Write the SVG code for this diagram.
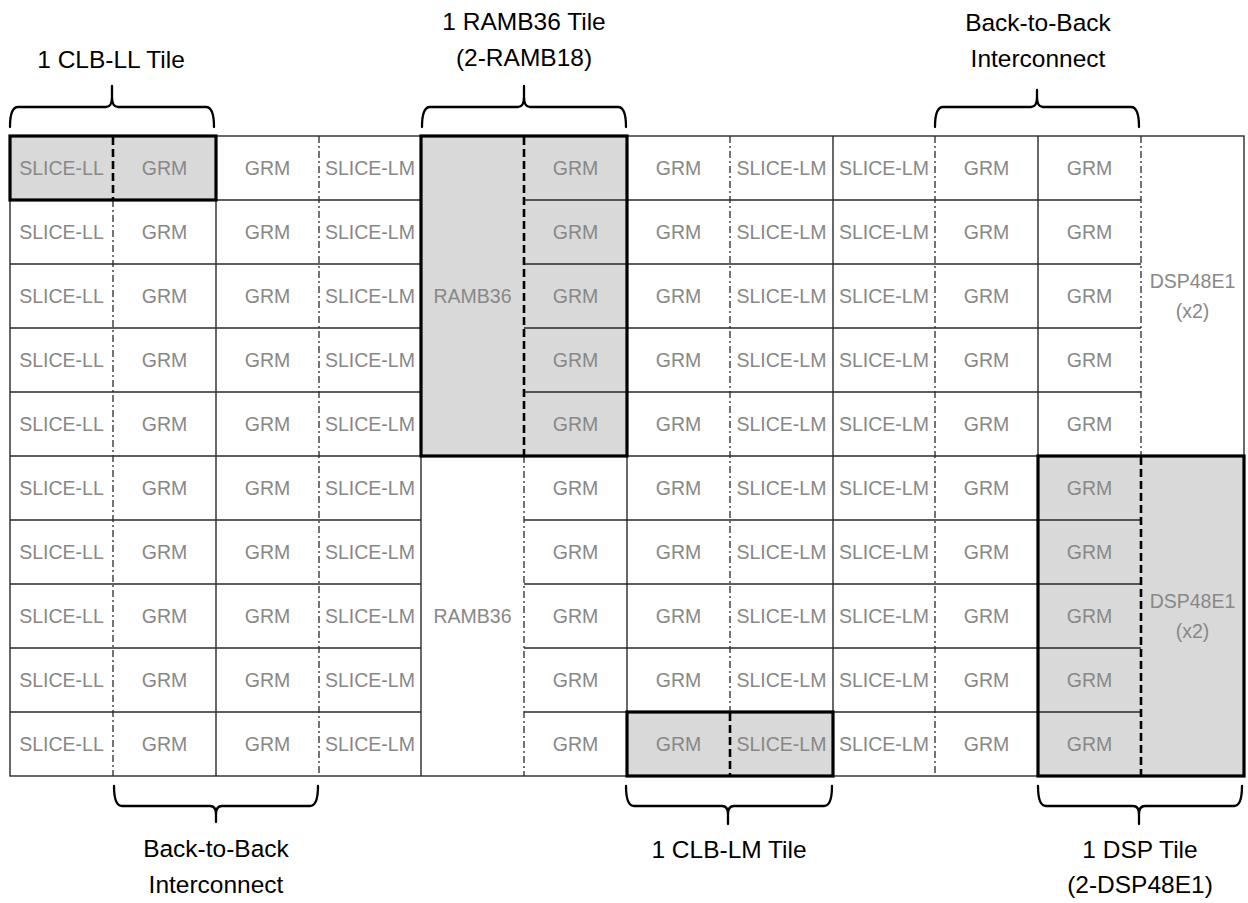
<svg xmlns="http://www.w3.org/2000/svg" width="1248" height="903" viewBox="0 0 1248 903">
<style>
.cell{font-family:"Liberation Sans",Arial,sans-serif;font-size:19.5px;fill:#888;text-anchor:middle}
.lbl{font-family:"Liberation Sans",Arial,sans-serif;font-size:24.5px;fill:#000;text-anchor:middle}
.grid{stroke:#2a2a2a;stroke-width:1.4;fill:none}
.dd{stroke:#2a2a2a;stroke-width:1.3;stroke-dasharray:7 3 2 3;fill:none}
.hl{fill:#d9d9d9;stroke:none}
.hb{fill:none;stroke:#000;stroke-width:3.2}
.hd{stroke:#000;stroke-width:2.6;stroke-dasharray:8 4;fill:none}
.br{fill:none;stroke:#000;stroke-width:2.3;stroke-linecap:round}
</style>
<rect x="0" y="0" width="1248" height="903" fill="#fff"/>
<g id="fills">
<rect class="hl" x="10" y="136" width="206" height="64"/>
<rect class="hl" x="421" y="136" width="206" height="320"/>
<rect class="hl" x="627" y="712" width="206" height="64"/>
<rect class="hl" x="1038" y="456" width="206" height="320"/>
</g>
<g id="connectors">
<rect class="grid" x="10" y="136" width="1234" height="640"/>
<path class="grid" d="M216,136V776M421,136V776M627,136V776M833,136V776M1038,136V776"/>
<path class="dd" d="M113,200V776M319,136V776M524,456V776M730,136V712M935,136V776M1141,136V456"/>
<path class="grid" d="M10,200H421M524,200H1141M10,264H421M524,264H1141M10,328H421M524,328H1141M10,392H421M524,392H1141M10,456H1244M10,520H421M524,520H1141M10,584H421M524,584H1141M10,648H421M524,648H1141M10,712H421M524,712H1141"/>
</g>
<g id="tile-clb-ll">
<rect class="hb" x="10" y="136" width="206" height="64"/>
<path class="hd" d="M113,137V199"/>
</g>
<g id="tile-ramb36">
<rect class="hb" x="421" y="136" width="206" height="320"/>
<path class="hd" d="M524,137V455"/>
</g>
<g id="tile-clb-lm">
<rect class="hb" x="627" y="712" width="206" height="64"/>
<path class="hd" d="M730,713V775"/>
</g>
<g id="tile-dsp">
<rect class="hb" x="1038" y="456" width="206" height="320"/>
<path class="hd" d="M1141,457V775"/>
</g>
<g id="col0" class="cell">
<text x="61.5" y="175">SLICE-LL</text><text x="61.5" y="239">SLICE-LL</text><text x="61.5" y="303">SLICE-LL</text><text x="61.5" y="367">SLICE-LL</text><text x="61.5" y="431">SLICE-LL</text><text x="61.5" y="495">SLICE-LL</text><text x="61.5" y="559">SLICE-LL</text><text x="61.5" y="623">SLICE-LL</text><text x="61.5" y="687">SLICE-LL</text><text x="61.5" y="751">SLICE-LL</text>
</g>
<g id="col1" class="cell">
<text x="164.5" y="175">GRM</text><text x="164.5" y="239">GRM</text><text x="164.5" y="303">GRM</text><text x="164.5" y="367">GRM</text><text x="164.5" y="431">GRM</text><text x="164.5" y="495">GRM</text><text x="164.5" y="559">GRM</text><text x="164.5" y="623">GRM</text><text x="164.5" y="687">GRM</text><text x="164.5" y="751">GRM</text>
</g>
<g id="col2" class="cell">
<text x="267.5" y="175">GRM</text><text x="267.5" y="239">GRM</text><text x="267.5" y="303">GRM</text><text x="267.5" y="367">GRM</text><text x="267.5" y="431">GRM</text><text x="267.5" y="495">GRM</text><text x="267.5" y="559">GRM</text><text x="267.5" y="623">GRM</text><text x="267.5" y="687">GRM</text><text x="267.5" y="751">GRM</text>
</g>
<g id="col3" class="cell">
<text x="370" y="175">SLICE-LM</text><text x="370" y="239">SLICE-LM</text><text x="370" y="303">SLICE-LM</text><text x="370" y="367">SLICE-LM</text><text x="370" y="431">SLICE-LM</text><text x="370" y="495">SLICE-LM</text><text x="370" y="559">SLICE-LM</text><text x="370" y="623">SLICE-LM</text><text x="370" y="687">SLICE-LM</text><text x="370" y="751">SLICE-LM</text>
</g>
<g id="col4" class="cell">
<text x="472.5" y="303">RAMB36</text><text x="472.5" y="623">RAMB36</text>
</g>
<g id="col5" class="cell">
<text x="575.5" y="175">GRM</text><text x="575.5" y="239">GRM</text><text x="575.5" y="303">GRM</text><text x="575.5" y="367">GRM</text><text x="575.5" y="431">GRM</text><text x="575.5" y="495">GRM</text><text x="575.5" y="559">GRM</text><text x="575.5" y="623">GRM</text><text x="575.5" y="687">GRM</text><text x="575.5" y="751">GRM</text>
</g>
<g id="col6" class="cell">
<text x="678.5" y="175">GRM</text><text x="678.5" y="239">GRM</text><text x="678.5" y="303">GRM</text><text x="678.5" y="367">GRM</text><text x="678.5" y="431">GRM</text><text x="678.5" y="495">GRM</text><text x="678.5" y="559">GRM</text><text x="678.5" y="623">GRM</text><text x="678.5" y="687">GRM</text><text x="678.5" y="751">GRM</text>
</g>
<g id="col7" class="cell">
<text x="781.5" y="175">SLICE-LM</text><text x="781.5" y="239">SLICE-LM</text><text x="781.5" y="303">SLICE-LM</text><text x="781.5" y="367">SLICE-LM</text><text x="781.5" y="431">SLICE-LM</text><text x="781.5" y="495">SLICE-LM</text><text x="781.5" y="559">SLICE-LM</text><text x="781.5" y="623">SLICE-LM</text><text x="781.5" y="687">SLICE-LM</text><text x="781.5" y="751">SLICE-LM</text>
</g>
<g id="col8" class="cell">
<text x="884" y="175">SLICE-LM</text><text x="884" y="239">SLICE-LM</text><text x="884" y="303">SLICE-LM</text><text x="884" y="367">SLICE-LM</text><text x="884" y="431">SLICE-LM</text><text x="884" y="495">SLICE-LM</text><text x="884" y="559">SLICE-LM</text><text x="884" y="623">SLICE-LM</text><text x="884" y="687">SLICE-LM</text><text x="884" y="751">SLICE-LM</text>
</g>
<g id="col9" class="cell">
<text x="986.5" y="175">GRM</text><text x="986.5" y="239">GRM</text><text x="986.5" y="303">GRM</text><text x="986.5" y="367">GRM</text><text x="986.5" y="431">GRM</text><text x="986.5" y="495">GRM</text><text x="986.5" y="559">GRM</text><text x="986.5" y="623">GRM</text><text x="986.5" y="687">GRM</text><text x="986.5" y="751">GRM</text>
</g>
<g id="col10" class="cell">
<text x="1089.5" y="175">GRM</text><text x="1089.5" y="239">GRM</text><text x="1089.5" y="303">GRM</text><text x="1089.5" y="367">GRM</text><text x="1089.5" y="431">GRM</text><text x="1089.5" y="495">GRM</text><text x="1089.5" y="559">GRM</text><text x="1089.5" y="623">GRM</text><text x="1089.5" y="687">GRM</text><text x="1089.5" y="751">GRM</text>
</g>
<g id="col11" class="cell">
<text x="1192.5" y="288">DSP48E1</text><text x="1192.5" y="318">(x2)</text>
<text x="1192.5" y="608">DSP48E1</text><text x="1192.5" y="638">(x2)</text>
</g>
<g id="label-clb-ll">
<path class="br" d="M10,127Q10,107 18,107H106Q112,107 112,97V86M112,97Q112,107 118,107H206Q214,107 214,127"/>
<text class="lbl" x="111" y="68">1 CLB-LL Tile</text>
</g>
<g id="label-ramb36">
<path class="br" d="M422,127Q422,107 430,107H518Q524,107 524,97V86M524,97Q524,107 530,107H618Q626,107 626,127"/>
<text class="lbl" x="524" y="30">1 RAMB36 Tile</text>
<text class="lbl" x="524" y="66">(2-RAMB18)</text>
</g>
<g id="label-b2b-top">
<path class="br" d="M935,127Q935,107 943,107H1031Q1037,107 1037,97V90M1037,97Q1037,107 1043,107H1131Q1139,107 1139,127"/>
<text class="lbl" x="1038" y="31">Back-to-Back</text>
<text class="lbl" x="1038" y="67">Interconnect</text>
</g>
<g id="label-b2b-bottom">
<path class="br" d="M114,786Q114,806 122,806H210Q216,806 216,814V822M216,814Q216,806 222,806H310Q318,806 318,786"/>
<text class="lbl" x="216" y="857">Back-to-Back</text>
<text class="lbl" x="216" y="893">Interconnect</text>
</g>
<g id="label-clb-lm">
<path class="br" d="M626,786Q626,806 634,806H722Q728,806 728,814V824M728,814Q728,806 734,806H824Q832,806 832,786"/>
<text class="lbl" x="729" y="858">1 CLB-LM Tile</text>
</g>
<g id="label-dsp">
<path class="br" d="M1038,786Q1038,806 1046,806H1133Q1139,806 1139,814V824M1139,814Q1139,806 1145,806H1234Q1242,806 1242,786"/>
<text class="lbl" x="1140" y="858">1 DSP Tile</text>
<text class="lbl" x="1140" y="893">(2-DSP48E1)</text>
</g>
</svg>
